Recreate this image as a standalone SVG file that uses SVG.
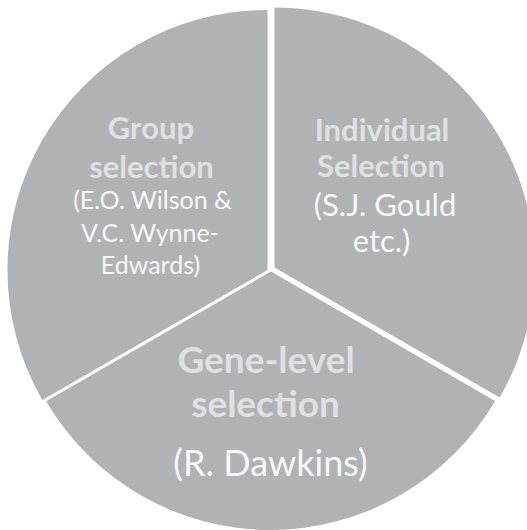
<svg xmlns="http://www.w3.org/2000/svg" width="527" height="530" viewBox="0 0 527 530">
  <style>
    .slice { fill: #b1b2b4; }
    .title { font-family: Lato, "Liberation Sans", sans-serif; font-weight: bold; fill: #dfe0e2; text-anchor: middle; }
    .sub { font-family: Lato, "Liberation Sans", sans-serif; fill: #f8f8f8; text-anchor: middle; }
  </style>
  <rect width="527" height="530" fill="#ffffff"/>

  <!-- Exploded pie: three 120-degree slices separated by white gaps -->
  <g id="group-selection">
    <path class="slice" d="M267.5,270 L267.5,10 A260,260 0 0 0 42.3,400 Z"/>
    <text class="title" x="151" y="139" font-size="31">Group</text>
    <text class="title" x="151.5" y="178" font-size="31">selection</text>
    <text class="sub" x="152.5" y="209" font-size="25">(E.O. Wilson &amp;</text>
    <text class="sub" x="150" y="242" font-size="25">V.C. Wynne-</text>
    <text class="sub" x="150.5" y="274" font-size="25">Edwards)</text>
  </g>

  <g id="individual-selection">
    <path class="slice" d="M274.5,267.5 L274.5,7.5 A260,260 0 0 1 499.7,397.5 Z"/>
    <text class="title" x="382" y="141" font-size="31">Individual</text>
    <text class="title" x="381" y="177" font-size="31">Selection</text>
    <text class="sub" x="385" y="216" font-size="31">(S.J. Gould</text>
    <text class="sub" x="381.5" y="252" font-size="31">etc.)</text>
  </g>

  <g id="gene-level-selection">
    <path class="slice" d="M271,271.5 L46.1,401.3 A260,260 0 0 0 495.1,400.9 Z"/>
    <text class="title" x="266" y="373" font-size="37">Gene-level</text>
    <text class="title" x="265.5" y="417" font-size="37">selection</text>
    <text class="sub" x="270.5" y="476" font-size="36">(R. Dawkins)</text>
  </g>

  <g id="connectors"/>
</svg>
